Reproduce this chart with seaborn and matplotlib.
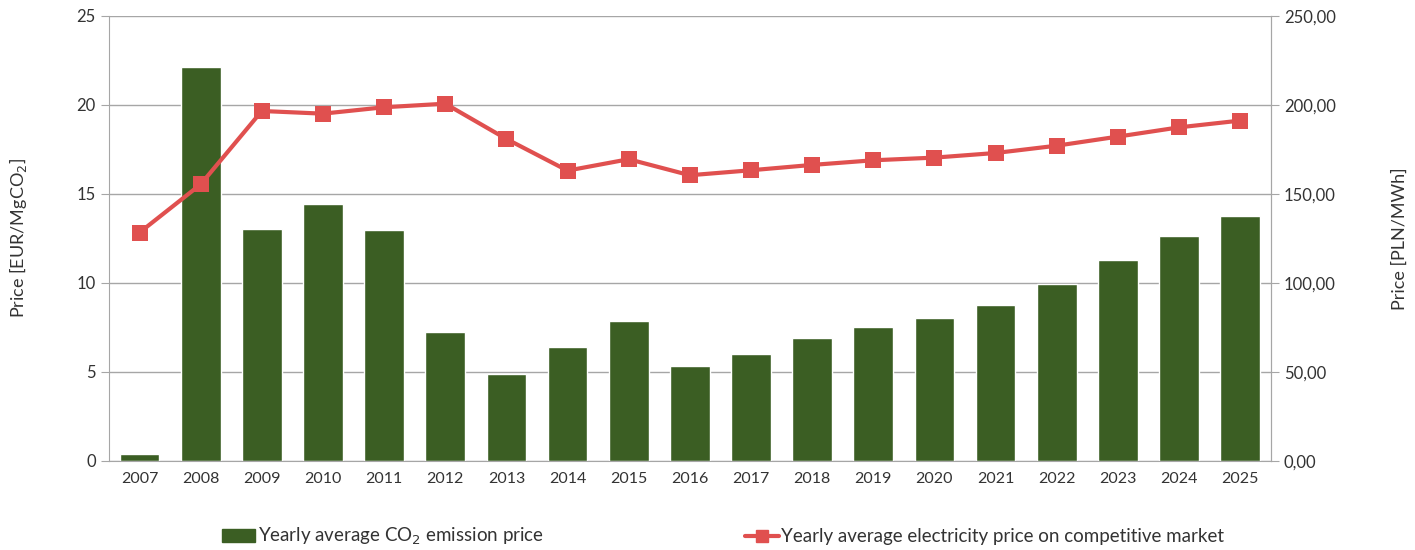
import numpy as np
import pandas as pd
import matplotlib
matplotlib.use("Agg")
import matplotlib.pyplot as plt
from matplotlib.ticker import FuncFormatter, FixedLocator
from matplotlib.patches import Patch
from matplotlib.lines import Line2D
import seaborn as sns

years = [str(y) for y in range(2007, 2026)]
co2_price = [0.4, 22.15, 13.05, 14.45, 13.0, 7.27, 4.9, 6.42, 7.85, 5.36, 6.03,
             6.91, 7.55, 8.03, 8.78, 9.93, 11.31, 12.66, 13.78]
elec_price = [128.3, 155.4, 196.6, 195.1, 198.7, 200.7, 180.9, 163.1, 169.5, 160.5,
              163.3, 166.3, 168.9, 170.4, 173.0, 177.1, 182.2, 187.4, 191.2]
left_ticks = [0, 5, 10, 15, 20, 25]
right_ticks = [0, 50, 100, 150, 200, 250]
bar_label = "Yearly average CO$_2$ emission price"
line_label = "Yearly average electricity price on competitive market"

sns.set_style("white")
plt.rcParams['font.family'] = ['Lato', 'DejaVu Sans']

BAR = "#3B5E23"
LINE = "#E0504F"
GRID = "#A6A6A6"

fig = plt.figure(figsize=(14.15, 5.5), dpi=100)
ax = fig.add_axes([0.077, 0.162, 0.821, 0.809])

df = pd.DataFrame({"year": years, "co2": co2_price, "elec": elec_price})
sns.barplot(data=df, x="year", y="co2", color=BAR, width=0.65, ax=ax,
            saturation=1, zorder=2)
ax.set_xlim(-0.5, len(years) - 0.5)
ax.set_ylim(0, 25)
ax.set_yticks(left_ticks)
ax.yaxis.grid(True, color=GRID, linewidth=1)
ax.set_axisbelow(True)
ax.set_xlabel("")
ax.set_ylabel("Price [EUR/MgCO$_2$]", fontsize=13, color="#333333", labelpad=34)
ax.spines["top"].set_visible(False)
for s in ["left", "bottom", "right"]:
    ax.spines[s].set_color(GRID)
ax.tick_params(axis="x", which="major", length=0, labelsize=11.5, colors="#333333", pad=8)
ax.xaxis.set_minor_locator(FixedLocator(np.arange(-0.5, len(years), 1.0)))
ax.tick_params(axis="x", which="minor", length=6, color=GRID, direction="out")
ax.tick_params(axis="y", which="major", length=6, color=GRID, labelsize=12,
               labelcolor="#333333", direction="out")

ax2 = ax.twinx()
sns.lineplot(x=np.arange(len(years)), y=elec_price, ax=ax2, color=LINE,
             linewidth=3, marker="s", markersize=11, markeredgewidth=0, zorder=3)
ax2.set_ylim(0, 250)
ax2.set_yticks(right_ticks)
ax2.yaxis.set_major_formatter(FuncFormatter(lambda v, p: f"{v:.2f}".replace(".", ",")))
ax2.set_ylabel("Price [PLN/MWh]", fontsize=13, color="#333333", labelpad=40)
ax2.tick_params(axis="y", length=6, color=GRID, labelsize=12, labelcolor="#333333")
for s in ["top", "left", "bottom"]:
    ax2.spines[s].set_visible(False)
ax2.spines["right"].set_color(GRID)
ax2.grid(False)

handles = [Patch(facecolor=BAR, edgecolor=BAR),
           Line2D([0], [0], color=LINE, linewidth=3, marker="s", markersize=9)]
fig.legend(handles, [bar_label, line_label], loc="center", ncol=2,
           bbox_to_anchor=(0.511, 0.024), frameon=False, fontsize=13.5,
           columnspacing=10.7, handlelength=1.8, handletextpad=0.15,
           labelcolor="#333333")

fig.savefig("out.png", dpi=100)
